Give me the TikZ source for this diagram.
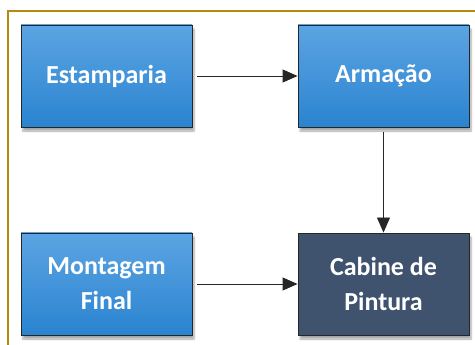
\documentclass[tikz,border=0pt]{standalone}
\usepackage{fontspec}
\setmainfont{Carlito}
\usepackage{tikz}
\usetikzlibrary{arrows.meta}
\usetikzlibrary{shadows.blur}
\definecolor{moldura}{HTML}{B48A12}
\definecolor{azulclaro}{HTML}{5CA4E3}
\definecolor{azulescuro}{HTML}{2A84D0}
\definecolor{cabine}{HTML}{3F526E}
\tikzset{
  etapa/.style={draw=black!85, line width=0.9pt, minimum width=171pt, minimum height=102pt,
    align=center, text=white, font=\fontsize{26}{35}\selectfont\bfseries,
    blur shadow={shadow xshift=2pt, shadow yshift=-4pt, shadow blur steps=6, shadow opacity=35}},
  azul/.style={etapa, top color=azulclaro, bottom color=azulescuro},
  escuro/.style={etapa, fill=cabine},
  fluxo/.style={-{Triangle[length=15pt,width=13pt]}, line width=0.9pt, black!85}
}

\begin{document}
\begin{tikzpicture}[x=1pt, y=-1pt]
        \useasboundingbox (0,0) rectangle (475,345);
        % moldura
        \draw[moldura, line width=1.6pt] (8,345) -- (8,11) -- (475,11);
        % row1
        \node[azul] (estamparia) at (106.5,76) {Estamparia};
        \node[azul] (armacao) at (383.5,76) {Armação};
        % row2
        \node[azul] (montagem) at (106.5,284) {Montagem\\Final};
        \node[escuro] (pintura) at (383.5,284) {Cabine de\\Pintura};
        % setas
        \draw[fluxo] ([xshift=5pt]estamparia.east) -- (armacao.west);
        \draw[fluxo] ([yshift=-5pt]armacao.south) -- (pintura.north);
        \draw[fluxo] ([xshift=5pt]montagem.east) -- (pintura.west);
\end{tikzpicture}
\end{document}
